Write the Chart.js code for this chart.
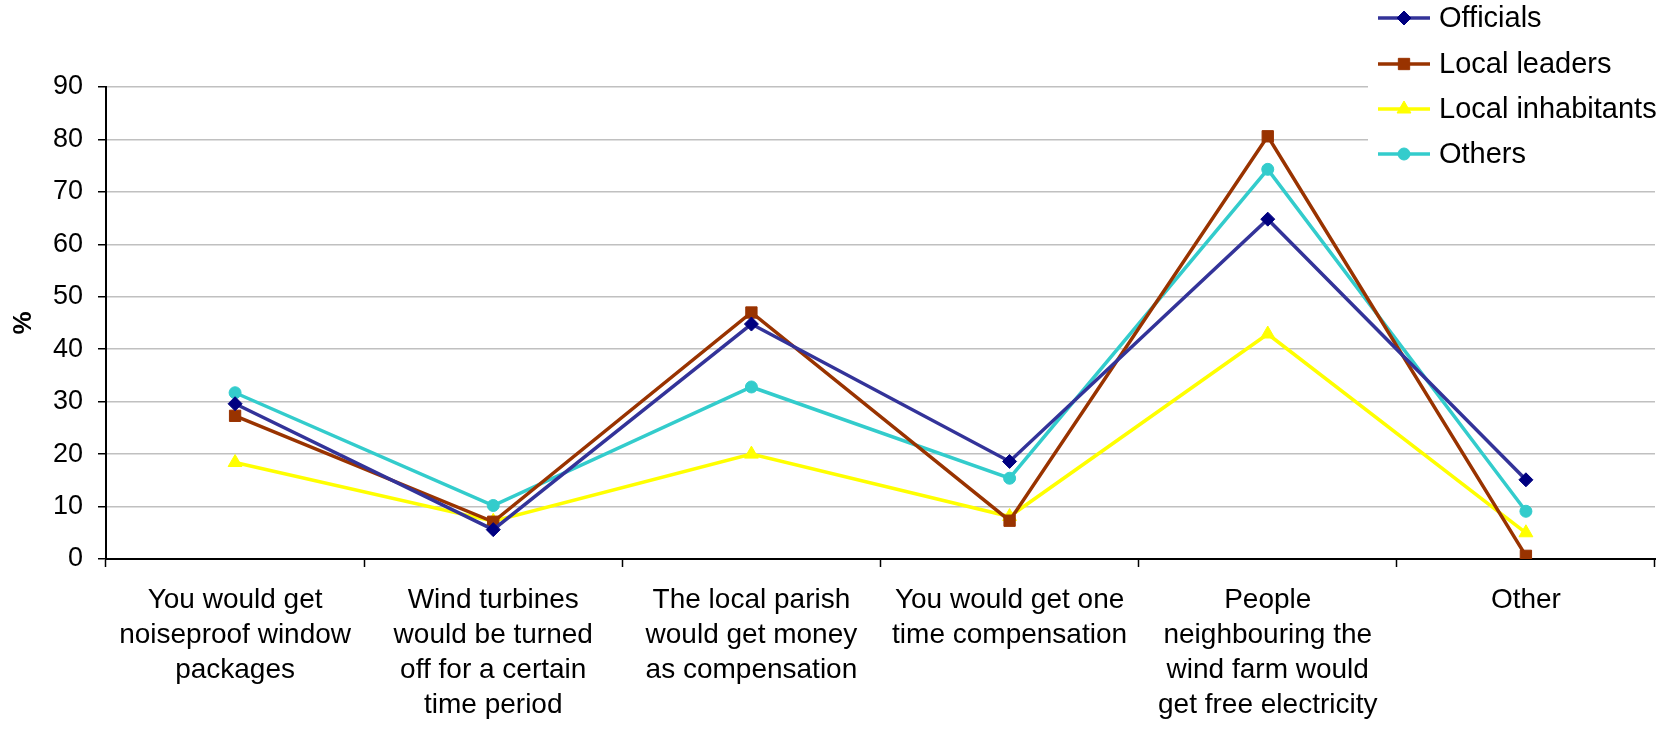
<!DOCTYPE html>
<html>
<head>
<meta charset="utf-8">
<script src="https://cdn.jsdelivr.net/npm/chart.js@4/dist/chart.umd.min.js"></script>
<style>
    html, body { margin: 0; padding: 0; background: #fff; }
    #wrap { width: 1673px; height: 729px; position: relative; }
</style>
</head>
<body>
<div id="wrap"><canvas id="chart"></canvas></div>
<script>
const categories = [
    ['You would get', 'noiseproof window', 'packages'],
    ['Wind turbines', 'would be turned', 'off for a certain', 'time period'],
    ['The local parish', 'would get money', 'as compensation'],
    ['You would get one', 'time compensation'],
    ['People', 'neighbouring the', 'wind farm would', 'get free electricity'],
    ['Other']
];
const seriesNames = ['Officials', 'Local leaders', 'Local inhabitants', 'Others'];
const officials = [29.6, 5.6, 44.8, 18.6, 64.8, 15.1];
const localLeaders = [27.3, 7.1, 47.0, 7.3, 80.6, 0.6];
const localInhabitants = [18.4, 7.2, 20.0, 8.1, 42.9, 5.0];
const others = [31.7, 10.2, 32.8, 15.4, 74.3, 9.1];
const yTicks = [0, 10, 20, 30, 40, 50, 60, 70, 80, 90];

const FONT = '"Liberation Sans", Arial, sans-serif';

const styles = [
    { line: '#333399', marker: '#000080', shape: 'rectRot', r: 7 },
    { line: '#993300', marker: '#993300', shape: 'rect', r: 8 },
    { line: '#ffff00', marker: '#ffff00', shape: 'triangle', r: 8 },
    { line: '#33cccc', marker: '#33cccc', shape: 'circle', r: 6 }
];
const values = [officials, localLeaders, localInhabitants, others];

const datasets = seriesNames.map((name, i) => ({
    label: name,
    data: values[i],
    borderColor: styles[i].line,
    backgroundColor: styles[i].marker,
    pointBackgroundColor: styles[i].marker,
    pointBorderColor: styles[i].marker,
    pointStyle: styles[i].shape,
    pointRadius: styles[i].r,
    pointBorderWidth: 1,
    borderWidth: 3.5,
    tension: 0,
    fill: false
}));

// legend box drawn on top of the plot, white background like the original
const boxLegend = {
    id: 'boxLegend',
    afterDraw(chart) {
        const ctx = chart.ctx;
        ctx.save();
        ctx.fillStyle = '#fff';
        ctx.fillRect(1368, 0, 305, 172);
        const rows = [18, 64, 109, 154];
        ctx.font = '29px ' + FONT;
        ctx.textBaseline = 'middle';
        rows.forEach((y, i) => {
            const s = styles[i];
            ctx.strokeStyle = s.line;
            ctx.lineWidth = 3.5;
            ctx.beginPath();
            ctx.moveTo(1378, y);
            ctx.lineTo(1430, y);
            ctx.stroke();
            ctx.fillStyle = s.marker;
            ctx.strokeStyle = s.marker;
            ctx.lineWidth = 1;
            Chart.helpers.drawPoint(ctx, {
                pointStyle: s.shape, radius: s.r, rotation: 0, borderWidth: 1
            }, 1404, y);
            ctx.fillStyle = '#000';
            ctx.fillText(seriesNames[i], 1439, y + 1);
        });
        ctx.restore();
    }
};

new Chart(document.getElementById('chart'), {
    type: 'line',
    data: { labels: categories, datasets: datasets },
    plugins: [boxLegend],
    options: {
        responsive: true,
        maintainAspectRatio: false,
        animation: false,
        layout: { padding: { top: 87, right: 18, left: 0, bottom: 0 } },
        plugins: {
            legend: { display: false },
            tooltip: { enabled: false }
        },
        scales: {
            x: {
                offset: true,
                afterFit: (scale) => { scale.height = 170; },
                grid: {
                    offset: true,
                    drawOnChartArea: false,
                    tickLength: 8,
                    tickColor: '#000',
                    tickWidth: 1.5
                },
                border: { color: '#000', width: 2 },
                ticks: {
                    color: '#000',
                    maxRotation: 0,
                    autoSkip: false,
                    padding: 16,
                    font: { family: FONT, size: 28, lineHeight: 1.25 }
                }
            },
            y: {
                min: 0,
                max: 90,
                afterFit: (scale) => { scale.width = 106; },
                afterBuildTicks: (scale) => { scale.ticks = yTicks.map(v => ({ value: v })); },
                grid: {
                    color: '#c0c0c0',
                    lineWidth: 1.5,
                    tickLength: 8,
                    tickColor: '#000',
                    tickWidth: 1.5
                },
                border: { color: '#000', width: 2 },
                title: {
                    display: true,
                    text: '%',
                    color: '#000',
                    padding: { top: 8, bottom: 0 },
                    font: { family: FONT, size: 26, weight: 'bold' }
                },
                ticks: {
                    color: '#000',
                    padding: 15,
                    font: { family: FONT, size: 27 }
                }
            }
        }
    }
});
</script>
</body>
</html>
